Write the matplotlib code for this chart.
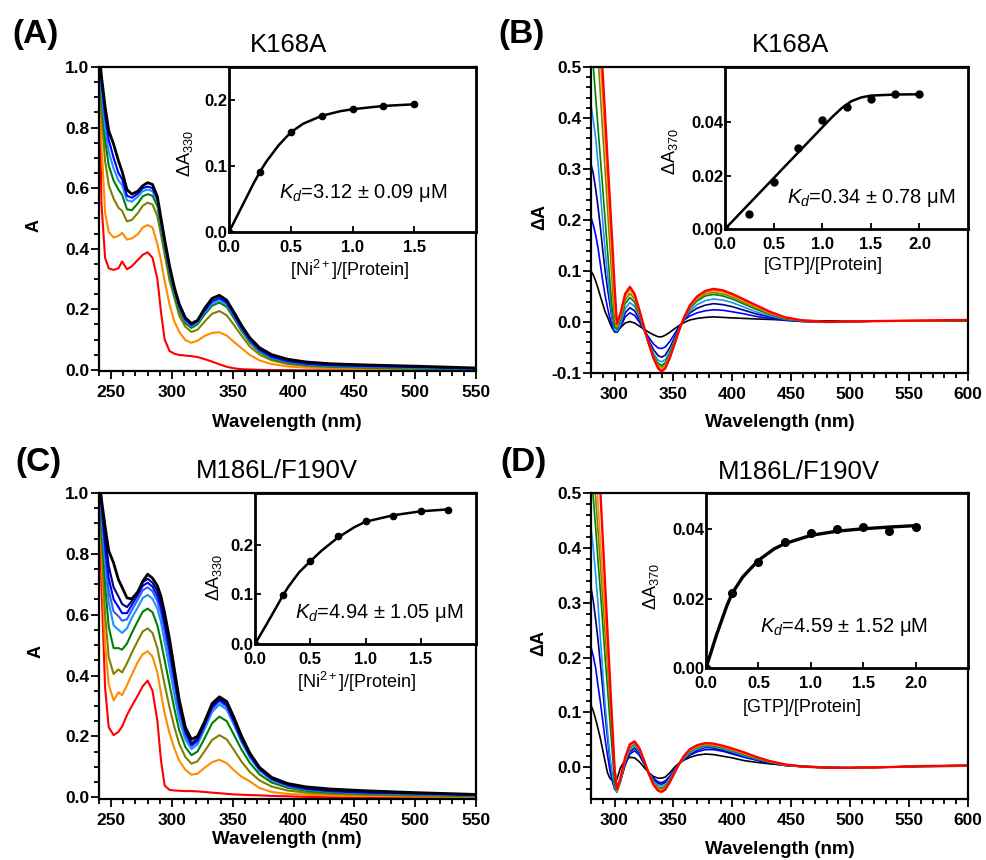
import matplotlib
matplotlib.use("Agg")
import matplotlib.pyplot as plt
from matplotlib.ticker import MultipleLocator

plt.rcParams['font.family'] = ['Liberation Sans', 'DejaVu Sans']
plt.rcParams['mathtext.fontset'] = 'custom'
plt.rcParams['mathtext.rm'] = 'Liberation Sans'
plt.rcParams['mathtext.it'] = 'Liberation Sans:italic'
plt.rcParams['mathtext.bf'] = 'Liberation Sans:bold'
plt.rcParams['axes.unicode_minus'] = False

# ---------------- wavelength grids (nm) ----------------
WL_AC = [240, 242, 245, 248, 252, 256, 259, 263, 267, 272,
         276, 280, 284, 288, 291, 294, 298, 302, 306, 311,
         316, 321, 327, 333, 339, 345, 351, 357, 364, 372,
         382, 395, 410, 430, 460, 500, 550]
WL_BD = [280, 282, 284, 286, 288, 290, 292, 294, 296, 298,
         300, 302, 305, 309, 313, 317, 321, 325, 329, 333,
         337, 340, 343, 347, 351, 355, 359, 364, 370, 377,
         384, 392, 400, 410, 420, 432, 445, 460, 480, 500,
         530, 560, 600]

# ---------------- (A) K168A, Ni2+ titration absorbance ----------------
a_red = [1.05, 0.55, 0.37, 0.335, 0.33, 0.335, 0.358, 0.332, 0.342, 0.363,
         0.38, 0.388, 0.37, 0.30, 0.19, 0.10, 0.062, 0.053, 0.049, 0.047,
         0.045, 0.042, 0.035, 0.027, 0.018, 0.010, 0.005, 0.002, 0.001, 0.0,
         -0.001, -0.001, -0.002, -0.002, -0.002, -0.003, -0.003]
a_orange = [1.05, 0.75, 0.52, 0.455, 0.437, 0.442, 0.452, 0.43, 0.434, 0.448,
            0.47, 0.478, 0.47, 0.415, 0.36, 0.293, 0.215, 0.16, 0.125, 0.098,
            0.089, 0.096, 0.112, 0.122, 0.124, 0.113, 0.092, 0.072, 0.049, 0.031,
            0.019, 0.011, 0.007, 0.005, 0.003, 0.001, 0.0]
a_olive = [1.05, 0.85, 0.69, 0.61, 0.565, 0.535, 0.525, 0.49, 0.495, 0.518,
           0.542, 0.552, 0.546, 0.507, 0.445, 0.38, 0.295, 0.238, 0.178, 0.142,
           0.125, 0.132, 0.16, 0.185, 0.194, 0.18, 0.148, 0.114, 0.077, 0.05,
           0.031, 0.019, 0.013, 0.009, 0.006, 0.003, 0.001]
a_green = [1.05, 0.9, 0.76, 0.675, 0.625, 0.595, 0.578, 0.53, 0.527, 0.55,
           0.573, 0.58, 0.575, 0.54, 0.47, 0.40, 0.316, 0.248, 0.195, 0.154,
           0.138, 0.15, 0.183, 0.212, 0.222, 0.208, 0.17, 0.13, 0.09, 0.059,
           0.037, 0.024, 0.016, 0.011, 0.008, 0.005, 0.002]
a_dodger = [1.05, 0.92, 0.8, 0.72, 0.665, 0.625, 0.61, 0.56, 0.555, 0.572,
            0.59, 0.595, 0.59, 0.556, 0.48, 0.412, 0.328, 0.258, 0.204, 0.161,
            0.144, 0.156, 0.19, 0.22, 0.23, 0.216, 0.177, 0.136, 0.095, 0.063,
            0.04, 0.027, 0.018, 0.013, 0.01, 0.007, 0.003]
a_blue = [1.05, 0.95, 0.84, 0.76, 0.7, 0.65, 0.63, 0.575, 0.568, 0.582,
          0.6, 0.605, 0.6, 0.566, 0.49, 0.42, 0.335, 0.265, 0.21, 0.166,
          0.148, 0.161, 0.196, 0.227, 0.237, 0.222, 0.182, 0.14, 0.099, 0.066,
          0.043, 0.029, 0.02, 0.015, 0.012, 0.009, 0.004]
a_black = [1.06, 0.97, 0.87, 0.79, 0.745, 0.69, 0.655, 0.595, 0.58, 0.59,
           0.608, 0.618, 0.612, 0.572, 0.50, 0.43, 0.343, 0.272, 0.217, 0.172,
           0.153, 0.163, 0.204, 0.236, 0.246, 0.23, 0.19, 0.148, 0.106, 0.073,
           0.05, 0.035, 0.026, 0.02, 0.016, 0.012, 0.006]

# ---------------- (C) M186L/F190V, Ni2+ titration absorbance ----------------
c_red = [1.05, 0.7, 0.36, 0.23, 0.204, 0.215, 0.232, 0.27, 0.3, 0.335,
         0.365, 0.383, 0.35, 0.25, 0.12, 0.038, 0.024, 0.022, 0.021, 0.02,
         0.02, 0.019, 0.017, 0.015, 0.013, 0.011, 0.009, 0.008, 0.007, 0.006,
         0.004, 0.003, 0.001, 0.0, -0.001, -0.003, -0.004]
c_orange = [1.05, 0.8, 0.5, 0.37, 0.318, 0.345, 0.335, 0.368, 0.403, 0.445,
            0.47, 0.48, 0.462, 0.41, 0.34, 0.275, 0.21, 0.16, 0.12, 0.09,
            0.074, 0.077, 0.097, 0.115, 0.123, 0.112, 0.088, 0.068, 0.052, 0.03,
            0.017, 0.011, 0.008, 0.006, 0.004, 0.002, 0.0]
c_olive = [1.05, 0.85, 0.6, 0.46, 0.405, 0.42, 0.41, 0.44, 0.475, 0.515,
           0.545, 0.555, 0.54, 0.49, 0.43, 0.37, 0.295, 0.23, 0.175, 0.132,
           0.11, 0.118, 0.152, 0.188, 0.204, 0.19, 0.155, 0.118, 0.083, 0.055,
           0.035, 0.022, 0.015, 0.011, 0.008, 0.005, 0.002]
c_green = [1.05, 0.9, 0.7, 0.56, 0.49, 0.49, 0.485, 0.505, 0.54, 0.58,
           0.61, 0.62, 0.608, 0.565, 0.51, 0.45, 0.37, 0.29, 0.22, 0.165,
           0.138, 0.15, 0.195, 0.243, 0.265, 0.25, 0.205, 0.158, 0.113, 0.075,
           0.048, 0.031, 0.021, 0.015, 0.011, 0.008, 0.004]
c_dodger = [1.05, 0.93, 0.77, 0.64, 0.565, 0.55, 0.54, 0.555, 0.59, 0.625,
            0.655, 0.665, 0.652, 0.62, 0.575, 0.51, 0.425, 0.335, 0.255, 0.19,
            0.158, 0.173, 0.225, 0.28, 0.305, 0.288, 0.237, 0.182, 0.13, 0.087,
            0.056, 0.036, 0.025, 0.018, 0.013, 0.01, 0.005]
c_royal = [1.05, 0.95, 0.8, 0.68, 0.61, 0.595, 0.58, 0.585, 0.615, 0.65,
           0.68, 0.69, 0.677, 0.645, 0.605, 0.545, 0.46, 0.37, 0.28, 0.205,
           0.167, 0.182, 0.235, 0.29, 0.315, 0.297, 0.245, 0.188, 0.135, 0.09,
           0.058, 0.038, 0.026, 0.019, 0.014, 0.011, 0.006]
c_blue = [1.05, 0.96, 0.83, 0.72, 0.65, 0.625, 0.605, 0.605, 0.632, 0.665,
          0.695, 0.705, 0.692, 0.662, 0.625, 0.567, 0.483, 0.39, 0.297, 0.215,
          0.172, 0.187, 0.24, 0.296, 0.32, 0.303, 0.25, 0.192, 0.138, 0.093,
          0.06, 0.04, 0.028, 0.02, 0.015, 0.012, 0.007]
c_navy = [1.06, 0.97, 0.86, 0.76, 0.69, 0.66, 0.635, 0.625, 0.645, 0.677,
          0.707, 0.718, 0.705, 0.678, 0.642, 0.585, 0.5, 0.405, 0.308, 0.222,
          0.177, 0.192, 0.246, 0.302, 0.325, 0.308, 0.255, 0.196, 0.142, 0.096,
          0.062, 0.042, 0.03, 0.022, 0.017, 0.013, 0.008]
c_black = [1.06, 0.98, 0.89, 0.81, 0.77, 0.715, 0.69, 0.655, 0.652, 0.675,
           0.71, 0.733, 0.72, 0.695, 0.66, 0.605, 0.52, 0.42, 0.32, 0.23,
           0.19, 0.2, 0.25, 0.308, 0.33, 0.315, 0.262, 0.203, 0.145, 0.098,
           0.065, 0.045, 0.034, 0.027, 0.021, 0.015, 0.009]

# ---------------- (B) K168A, GTP titration difference spectra ----------------
b_black = [0.1, 0.092, 0.08, 0.066, 0.05, 0.035, 0.02, 0.01, -0.002, -0.012,
           -0.019, -0.02, -0.011, -0.002, 0.001, -0.002, -0.008, -0.014, -0.02, -0.025,
           -0.029, -0.029, -0.026, -0.02, -0.013, -0.007, -0.001, 0.004, 0.007, 0.009,
           0.01, 0.009, 0.008, 0.007, 0.006, 0.005, 0.004, 0.003, 0.002, 0.002,
           0.002, 0.002, 0.002]
b_blue = [0.205, 0.19, 0.17, 0.145, 0.112, 0.08, 0.052, 0.028, 0.008, -0.008,
          -0.019, -0.02, -0.01, 0.01, 0.018, 0.013, 0.0, -0.016, -0.03, -0.043,
          -0.051, -0.052, -0.049, -0.038, -0.023, -0.008, 0.004, 0.012, 0.018, 0.022,
          0.024, 0.023, 0.02, 0.016, 0.011, 0.007, 0.003, 0.001, 0.0, 0.001,
          0.002, 0.002, 0.003]
b_navy = [0.31, 0.29, 0.26, 0.225, 0.185, 0.14, 0.1, 0.066, 0.035, 0.005,
          -0.018, -0.02, -0.008, 0.018, 0.028, 0.022, 0.005, -0.016, -0.036, -0.054,
          -0.066, -0.069, -0.065, -0.05, -0.03, -0.01, 0.005, 0.018, 0.027, 0.033,
          0.036, 0.034, 0.03, 0.023, 0.016, 0.01, 0.004, 0.001, 0.0, 0.001,
          0.002, 0.002, 0.003]
b_dodger = [0.425, 0.395, 0.36, 0.31, 0.255, 0.195, 0.14, 0.092, 0.05, 0.01,
            -0.016, -0.018, -0.005, 0.026, 0.038, 0.031, 0.01, -0.015, -0.04, -0.061,
            -0.075, -0.078, -0.074, -0.057, -0.035, -0.012, 0.006, 0.022, 0.034, 0.042,
            0.045, 0.043, 0.038, 0.029, 0.02, 0.012, 0.005, 0.002, 0.0, 0.001,
            0.002, 0.002, 0.003]
b_green = [0.56, 0.5, 0.44, 0.38, 0.32, 0.26, 0.2, 0.14, 0.08, 0.025,
           -0.01, -0.014, 0.004, 0.036, 0.048, 0.039, 0.014, -0.014, -0.043, -0.066,
           -0.081, -0.085, -0.08, -0.062, -0.038, -0.013, 0.007, 0.027, 0.041, 0.051,
           0.054, 0.051, 0.045, 0.035, 0.025, 0.015, 0.006, 0.002, 0.0, 0.001,
           0.002, 0.002, 0.003]
b_olive = [0.74, 0.67, 0.6, 0.52, 0.445, 0.37, 0.297, 0.223, 0.15, 0.075,
           0.0, -0.011, 0.008, 0.043, 0.056, 0.045, 0.018, -0.012, -0.043, -0.068,
           -0.085, -0.089, -0.084, -0.065, -0.04, -0.014, 0.008, 0.029, 0.044, 0.055,
           0.058, 0.055, 0.049, 0.038, 0.028, 0.016, 0.007, 0.002, 0.0, 0.001,
           0.002, 0.002, 0.003]
b_orange = [0.83, 0.75, 0.67, 0.59, 0.514, 0.434, 0.354, 0.274, 0.194, 0.114,
            0.034, -0.008, 0.012, 0.05, 0.063, 0.05, 0.021, -0.011, -0.043, -0.07,
            -0.088, -0.093, -0.088, -0.068, -0.042, -0.015, 0.008, 0.031, 0.047, 0.058,
            0.062, 0.059, 0.052, 0.041, 0.03, 0.018, 0.008, 0.003, 0.0, 0.001,
            0.002, 0.003, 0.004]
b_red = [0.9, 0.82, 0.73, 0.65, 0.57, 0.486, 0.404, 0.32, 0.24, 0.158,
         0.07, -0.004, 0.017, 0.055, 0.069, 0.055, 0.024, -0.009, -0.042, -0.071,
         -0.091, -0.097, -0.091, -0.07, -0.043, -0.015, 0.009, 0.033, 0.05, 0.061,
         0.065, 0.062, 0.055, 0.044, 0.033, 0.02, 0.009, 0.003, 0.0, 0.001,
         0.002, 0.003, 0.004]

# ---------------- (D) M186L/F190V, GTP titration difference spectra ----------------
d_black = [0.113, 0.102, 0.087, 0.07, 0.052, 0.031, 0.01, -0.01, -0.02, -0.024,
           -0.026, -0.022, -0.001, 0.013, 0.018, 0.017, 0.01, 0.0, -0.01, -0.017,
           -0.02, -0.02, -0.018, -0.01, 0.0, 0.008, 0.013, 0.018, 0.022, 0.024,
           0.023, 0.02, 0.017, 0.012, 0.009, 0.006, 0.004, 0.002, 0.0, -0.001,
           0.0, 0.001, 0.002]
d_blue = [0.219, 0.202, 0.18, 0.148, 0.118, 0.084, 0.05, 0.022, -0.005, -0.025,
          -0.039, -0.04, -0.024, 0.004, 0.024, 0.03, 0.022, 0.006, -0.009, -0.02,
          -0.027, -0.028, -0.025, -0.016, -0.004, 0.006, 0.014, 0.022, 0.028, 0.032,
          0.032, 0.029, 0.024, 0.018, 0.013, 0.007, 0.003, 0.001, -0.001, -0.001,
          0.0, 0.002, 0.003]
d_navy = [0.328, 0.302, 0.268, 0.231, 0.188, 0.142, 0.095, 0.054, 0.014, -0.018,
          -0.04, -0.044, -0.026, 0.006, 0.028, 0.035, 0.026, 0.008, -0.01, -0.023,
          -0.03, -0.031, -0.028, -0.018, -0.005, 0.006, 0.015, 0.024, 0.031, 0.036,
          0.035, 0.031, 0.026, 0.02, 0.014, 0.008, 0.003, 0.001, -0.001, -0.001,
          0.0, 0.002, 0.003]
d_dodger = [0.437, 0.398, 0.35, 0.296, 0.234, 0.172, 0.113, 0.066, 0.02, -0.012,
            -0.037, -0.046, -0.026, 0.01, 0.032, 0.039, 0.029, 0.01, -0.01, -0.025,
            -0.033, -0.034, -0.031, -0.02, -0.006, 0.006, 0.016, 0.026, 0.033, 0.038,
            0.037, 0.033, 0.028, 0.021, 0.015, 0.009, 0.004, 0.001, -0.001, -0.001,
            0.0, 0.002, 0.003]
d_green = [0.55, 0.49, 0.435, 0.375, 0.32, 0.26, 0.2, 0.145, 0.085, 0.03,
           -0.03, -0.045, -0.024, 0.012, 0.036, 0.043, 0.032, 0.011, -0.011, -0.028,
           -0.037, -0.038, -0.035, -0.023, -0.008, 0.006, 0.018, 0.029, 0.036, 0.04,
           0.039, 0.035, 0.03, 0.023, 0.016, 0.009, 0.004, 0.001, -0.001, -0.001,
           0.0, 0.002, 0.003]
d_olive = [0.61, 0.55, 0.49, 0.43, 0.37, 0.305, 0.245, 0.185, 0.12, 0.06,
           -0.005, -0.044, -0.023, 0.013, 0.037, 0.044, 0.033, 0.012, -0.011, -0.029,
           -0.038, -0.04, -0.037, -0.025, -0.009, 0.006, 0.019, 0.03, 0.037, 0.041,
           0.04, 0.036, 0.031, 0.024, 0.017, 0.01, 0.004, 0.001, -0.001, -0.001,
           0.0, 0.002, 0.003]
d_orange = [0.68, 0.62, 0.55, 0.48, 0.41, 0.345, 0.278, 0.21, 0.142, 0.073,
            0.005, -0.043, -0.022, 0.015, 0.039, 0.045, 0.034, 0.013, -0.011, -0.03,
            -0.04, -0.042, -0.039, -0.026, -0.009, 0.007, 0.02, 0.031, 0.038, 0.042,
            0.041, 0.037, 0.032, 0.025, 0.018, 0.01, 0.004, 0.001, -0.001, -0.001,
            0.0, 0.002, 0.003]
d_red = [0.83, 0.75, 0.66, 0.58, 0.5, 0.416, 0.332, 0.248, 0.164, 0.08,
         -0.004, -0.04, -0.02, 0.018, 0.042, 0.047, 0.035, 0.013, -0.012, -0.032,
         -0.043, -0.045, -0.041, -0.027, -0.01, 0.007, 0.021, 0.033, 0.04, 0.044,
         0.043, 0.039, 0.034, 0.027, 0.019, 0.011, 0.005, 0.001, -0.001, -0.001,
         0.0, 0.002, 0.003]

# ---------------- binding isotherms (insets) ----------------
ins_a_x = [0, 0.25, 0.5, 0.75, 1.0, 1.25, 1.5]
ins_a_y = [0.0, 0.091, 0.151, 0.176, 0.186, 0.191, 0.1935]
fit_a_x = [0, 0.1, 0.2, 0.25, 0.3, 0.4, 0.5, 0.6, 0.75, 0.9, 1.0, 1.25, 1.5]
fit_a_y = [0, 0.037, 0.074, 0.091, 0.106, 0.131, 0.151, 0.164, 0.176, 0.183, 0.186, 0.191, 0.1935]

ins_b_x = [0, 0.25, 0.5, 0.75, 1.0, 1.25, 1.5, 1.75, 2.0]
ins_b_y = [0.0, 0.0055, 0.0177, 0.0303, 0.0406, 0.0456, 0.0485, 0.0504, 0.0506]
fit_b_x = [0, 0.25, 0.5, 0.75, 1.0, 1.1, 1.2, 1.3, 1.4, 1.5, 1.75, 2.0]
fit_b_y = [0, 0.0095, 0.019, 0.0285, 0.038, 0.0418, 0.0452, 0.0478, 0.0492, 0.0499, 0.0503, 0.0504]

ins_c_x = [0, 0.25, 0.5, 0.75, 1.0, 1.25, 1.5, 1.75]
ins_c_y = [0.0, 0.098, 0.167, 0.218, 0.248, 0.259, 0.269, 0.271]
fit_c_x = [0, 0.1, 0.2, 0.25, 0.3, 0.4, 0.5, 0.6, 0.75, 0.9, 1.0, 1.25, 1.5, 1.75]
fit_c_y = [0, 0.038, 0.077, 0.097, 0.115, 0.145, 0.167, 0.188, 0.215, 0.236, 0.247, 0.26, 0.268, 0.272]

ins_d_x = [0, 0.25, 0.5, 0.75, 1.0, 1.25, 1.5, 1.75, 2.0]
ins_d_y = [0.0, 0.0215, 0.0306, 0.0364, 0.039, 0.040, 0.0406, 0.0394, 0.0405]
fit_d_x = [0, 0.1, 0.2, 0.25, 0.35, 0.5, 0.65, 0.75, 1.0, 1.25, 1.5, 1.75, 2.0]
fit_d_y = [0, 0.0095, 0.018, 0.0215, 0.0262, 0.031, 0.0343, 0.0358, 0.0382, 0.0394, 0.0401, 0.0406, 0.041]

COL = {'red': '#FF0000', 'orange': '#FF8C00', 'olive': '#808000', 'green': '#008000',
       'dodger': '#1E90FF', 'royal': '#3060F0', 'blue': '#0000FF', 'navy': '#000080',
       'black': '#000000'}

W, H = 986, 860
fig = plt.figure(figsize=(W / 100, H / 100), dpi=100)


def box(l, t, r, b):
    return [l / W, 1 - b / H, (r - l) / W, (b - t) / H]


def ftext(x, y, s, **kw):
    kw.setdefault('ha', 'center')
    kw.setdefault('va', 'center')
    fig.text(x / W, 1 - y / H, s, **kw)


def main_axes(rect, xlim, ylim, xticks, yticks, yfmt, xminor, yminor):
    ax = fig.add_axes(rect)
    ax.set_xlim(*xlim)
    ax.set_ylim(*ylim)
    ax.set_xticks(xticks)
    ax.set_xticklabels([str(t) for t in xticks], fontweight='bold')
    ax.set_yticks(yticks)
    ax.set_yticklabels([yfmt % t for t in yticks], fontweight='bold')
    ax.xaxis.set_minor_locator(MultipleLocator(xminor))
    ax.yaxis.set_minor_locator(MultipleLocator(yminor))
    ax.tick_params(which='both', direction='out', top=False, right=False,
                   width=1.3, labelsize=12.5)
    ax.tick_params(axis='y', which='major', length=6, pad=1)
    ax.tick_params(axis='x', which='major', length=6, pad=4)
    ax.tick_params(which='minor', length=3.5)
    for sp in ax.spines.values():
        sp.set_linewidth(1.6)
    return ax


def inset_axes(rect, xlim, ylim, xticks, yticks, xfmt, yfmt):
    ax = fig.add_axes(rect)
    ax.set_xlim(*xlim)
    ax.set_ylim(*ylim)
    ax.set_xticks(xticks)
    ax.set_xticklabels([xfmt % t for t in xticks], fontweight='bold')
    ax.set_yticks(yticks)
    ax.set_yticklabels([yfmt % t for t in yticks], fontweight='bold')
    ax.tick_params(direction='in', length=4, width=1.3, labelsize=12,
                   top=False, right=False)
    ax.tick_params(axis='y', pad=1)
    ax.tick_params(axis='x', pad=5.5)
    for sp in ax.spines.values():
        sp.set_linewidth(2.0)
    ax.set_facecolor('white')
    return ax


# ================= Panel A =================
axA = main_axes(box(99, 67, 476, 371), (240, 550), (-0.004, 1.0),
                list(range(250, 551, 50)), [0.0, 0.2, 0.4, 0.6, 0.8, 1.0], '%.1f', 10, 0.05)
for y, c in [(a_red, 'red'), (a_orange, 'orange'), (a_olive, 'olive'), (a_green, 'green'),
             (a_dodger, 'dodger'), (a_blue, 'blue'), (a_black, 'black')]:
    axA.plot(WL_AC, y, color=COL[c], lw=2.0 if c == 'black' else 1.5)

inA = inset_axes(box(229, 67, 476, 232), (0, 2.0), (0, 0.25),
                 [0, 0.5, 1.0, 1.5], [0, 0.1, 0.2], '%.1f', '%.1f')
inA.plot(fit_a_x, fit_a_y, color='black', lw=1.8)
inA.plot(ins_a_x, ins_a_y, 'o', color='black', ms=4.5)

# ================= Panel B =================
axB = main_axes(box(591, 67, 968, 373), (280, 600), (-0.1, 0.5),
                list(range(300, 601, 50)), [-0.1, 0.0, 0.1, 0.2, 0.3, 0.4, 0.5], '%.1f', 10, 0.02)
for y, c in [(b_black, 'black'), (b_blue, 'blue'), (b_navy, 'navy'), (b_dodger, 'dodger'),
             (b_green, 'green'), (b_olive, 'olive'), (b_orange, 'orange'), (b_red, 'red')]:
    axB.plot(WL_BD, y, color=COL[c], lw=1.7 if c == 'red' else 1.2)

inB = inset_axes(box(725, 67, 968, 229), (0, 2.5), (0, 0.0606),
                 [0, 0.5, 1.0, 1.5, 2.0], [0, 0.02, 0.04], '%.1f', '%.2f')
inB.plot(fit_b_x, fit_b_y, color='black', lw=1.8)
inB.plot(ins_b_x, ins_b_y, 'o', color='black', ms=5)

# ================= Panel C =================
axC = main_axes(box(99, 493, 476, 799), (240, 550), (-0.006, 1.0),
                list(range(250, 551, 50)), [0.0, 0.2, 0.4, 0.6, 0.8, 1.0], '%.1f', 10, 0.05)
for y, c in [(c_red, 'red'), (c_orange, 'orange'), (c_olive, 'olive'), (c_green, 'green'),
             (c_dodger, 'dodger'), (c_royal, 'royal'), (c_blue, 'blue'), (c_navy, 'navy'),
             (c_black, 'black')]:
    axC.plot(WL_AC, y, color=COL[c], lw=2.0 if c == 'black' else 1.5)

inC = inset_axes(box(255, 493, 476, 644), (0, 2.0), (0, 0.305),
                 [0, 0.5, 1.0, 1.5], [0, 0.1, 0.2], '%.1f', '%.1f')
inC.plot(fit_c_x, fit_c_y, color='black', lw=1.8)
inC.plot(ins_c_x, ins_c_y, 'o', color='black', ms=4.5)

# ================= Panel D =================
axD = main_axes(box(591, 493, 968, 799), (280, 600), (-0.058, 0.5),
                list(range(300, 601, 50)), [0.0, 0.1, 0.2, 0.3, 0.4, 0.5], '%.1f', 10, 0.02)
for y, c in [(d_black, 'black'), (d_blue, 'blue'), (d_navy, 'navy'), (d_dodger, 'dodger'),
             (d_green, 'green'), (d_olive, 'olive'), (d_orange, 'orange'), (d_red, 'red')]:
    axD.plot(WL_BD, y, color=COL[c], lw=1.7 if c == 'red' else 1.2)

inD = inset_axes(box(706, 493, 968, 668), (0, 2.5), (0, 0.0504),
                 [0, 0.5, 1.0, 1.5, 2.0], [0, 0.02, 0.04], '%.1f', '%.2f')
inD.plot(fit_d_x, fit_d_y, color='black', lw=2.4)
inD.plot(ins_d_x, ins_d_y, 'o', color='black', ms=5.5)

# ================= labels =================
for x, y, s in [(36, 34, '(A)'), (522, 34, '(B)'), (38, 462, '(C)'), (523, 462, '(D)')]:
    ftext(x, y, s, fontsize=24, fontweight='bold')

ftext(289, 45, 'K168A', fontsize=18.5)
ftext(790, 45, 'K168A', fontsize=18.5)
ftext(277, 471, 'M186L/F190V', fontsize=18.5)
ftext(799, 472, 'M186L/F190V', fontsize=18.5)

ftext(34, 225, 'A', fontsize=13, fontweight='bold', rotation=90)
ftext(540, 217, 'ΔA', fontsize=13, fontweight='bold', rotation=90)
ftext(36, 652, 'A', fontsize=13, fontweight='bold', rotation=90)
ftext(539, 643, 'ΔA', fontsize=13, fontweight='bold', rotation=90)

ftext(287, 423, 'Wavelength (nm)', fontsize=13.5, fontweight='bold')
ftext(780, 423, 'Wavelength (nm)', fontsize=13.5, fontweight='bold')
ftext(287, 839, 'Wavelength (nm)', fontsize=13.5, fontweight='bold')
ftext(780, 849, 'Wavelength (nm)', fontsize=13.5, fontweight='bold')

# inset axis titles
ftext(185, 154, 'ΔA$_{330}$', fontsize=13, rotation=90)
ftext(670, 152, 'ΔA$_{370}$', fontsize=13, rotation=90)
ftext(214, 578, 'ΔA$_{330}$', fontsize=13, rotation=90)
ftext(651, 587, 'ΔA$_{370}$', fontsize=13, rotation=90)

ftext(350, 270, '[Ni$^{2+}$]/[Protein]', fontsize=13)
ftext(823, 265, '[GTP]/[Protein]', fontsize=13)
ftext(357, 682, '[Ni$^{2+}$]/[Protein]', fontsize=13)
ftext(802, 708, '[GTP]/[Protein]', fontsize=13)

ftext(279, 193, '$K_d$=3.12 ± 0.09 μM', fontsize=14.5, ha='left')
ftext(787, 198, '$K_d$=0.34 ± 0.78 μM', fontsize=14.5, ha='left')
ftext(295, 613, '$K_d$=4.94 ± 1.05 μM', fontsize=14.5, ha='left')
ftext(760, 627, '$K_d$=4.59 ± 1.52 μM', fontsize=14.5, ha='left')

fig.savefig('out.png', dpi=100)
